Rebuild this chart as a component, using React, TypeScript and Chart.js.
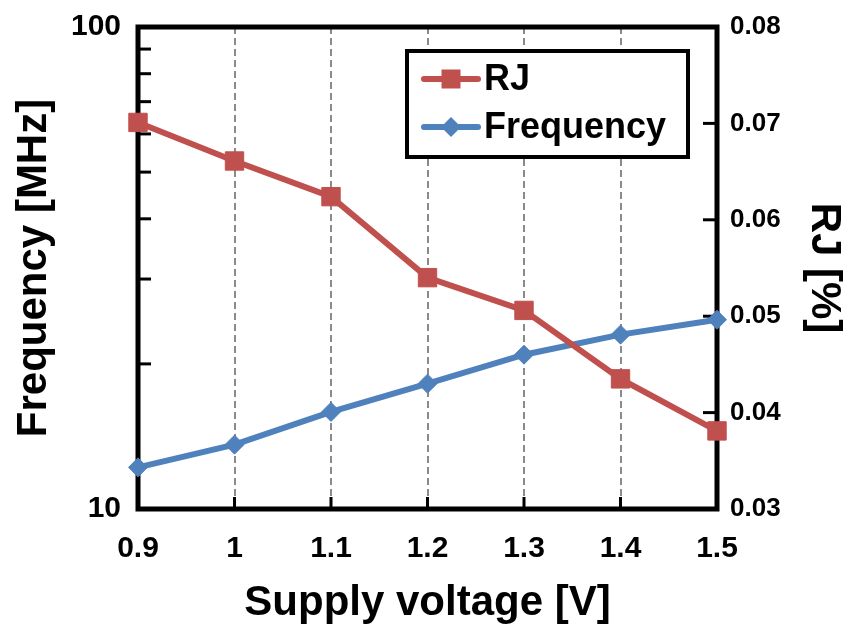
import React, { useEffect, useRef } from 'react';
import { Chart, registerables } from 'chart.js';

Chart.register(...registerables);

// ---- data ----
const voltages = ['0.9', '1', '1.1', '1.2', '1.3', '1.4', '1.5'];
const rjValues = [0.0701, 0.0661, 0.0624, 0.054, 0.0506, 0.0435, 0.0381];
const freqValues = [12.2, 13.6, 15.9, 18.2, 20.9, 23.0, 24.7];
const freqTicks = [10, 20, 30, 40, 50, 60, 70, 80, 90, 100];
const freqLabeled = [10, 100];
const rjTicks = [0.03, 0.04, 0.05, 0.06, 0.07, 0.08];

const RED = '#C0504D';
const BLUE = '#4F81BD';
const FONT = "'Liberation Sans', Arial, sans-serif";

const framePlugin = {
  id: 'frame',
  beforeDatasetsDraw(chart: any) {
    const { ctx, chartArea, scales } = chart;
    const { left, right, top, bottom } = chartArea;
    const x = scales.x, y = scales.y, y1 = scales.y1;
    ctx.save();
    ctx.strokeStyle = '#8a8a8a';
    ctx.lineWidth = 2;
    ctx.setLineDash([7, 4]);
    voltages.forEach((_, i) => {
      if (i === 0 || i === voltages.length - 1) return;
      const px = Math.round(x.getPixelForValue(i));
      ctx.beginPath();
      ctx.moveTo(px, top);
      ctx.lineTo(px, bottom);
      ctx.stroke();
    });
    ctx.setLineDash([]);
    ctx.strokeStyle = '#000';
    ctx.lineWidth = 3;
    const seg = (x0: number, y0: number, x1: number, y2: number) => {
      ctx.beginPath();
      ctx.moveTo(x0, y0);
      ctx.lineTo(x1, y2);
      ctx.stroke();
    };
    freqTicks.forEach((v) => {
      if (v === freqTicks[0] || v === freqTicks[freqTicks.length - 1]) return;
      const py = y.getPixelForValue(v);
      seg(left, py, left + 13, py);
    });
    rjTicks.forEach((v, i) => {
      if (i === 0 || i === rjTicks.length - 1) return;
      const py = y1.getPixelForValue(v);
      seg(right - 14, py, right, py);
    });
    voltages.forEach((_, i) => {
      if (i === 0 || i === voltages.length - 1) return;
      const px = x.getPixelForValue(i);
      seg(px, bottom - 12, px, bottom);
    });
    ctx.lineWidth = 5;
    ctx.strokeRect(left, top, right - left, bottom - top);
    ctx.restore();
  },
  afterDatasetsDraw(chart: any) {
    const { ctx } = chart;
    const bx = 407, by = 51, bw = 281, bh = 106;
    ctx.save();
    ctx.fillStyle = '#fff';
    ctx.fillRect(bx, by, bw, bh);
    ctx.strokeStyle = '#000';
    ctx.lineWidth = 4;
    ctx.strokeRect(bx, by, bw, bh);
    const rows = [79, 127];
    chart.data.datasets.forEach((ds: any, i: number) => {
      const cy = rows[i];
      const color = ds.borderColor;
      ctx.strokeStyle = color;
      ctx.lineWidth = 6;
      ctx.lineCap = 'round';
      ctx.beginPath();
      ctx.moveTo(424, cy);
      ctx.lineTo(478, cy);
      ctx.stroke();
      ctx.fillStyle = color;
      if (ds.pointStyle === 'rect') {
        ctx.fillRect(451 - 9.5, cy - 9.5, 19, 19);
      } else {
        ctx.beginPath();
        ctx.moveTo(451 - 10, cy);
        ctx.lineTo(451, cy - 10);
        ctx.lineTo(451 + 10, cy);
        ctx.lineTo(451, cy + 10);
        ctx.closePath();
        ctx.fill();
      }
      ctx.fillStyle = '#000';
      ctx.font = `bold 36px ${FONT}`;
      ctx.textBaseline = 'middle';
      ctx.textAlign = 'left';
      ctx.fillText(ds.label, 484, cy + 1);
    });
    ctx.restore();
  },
};

export default function App() {
  const ref = useRef<HTMLCanvasElement>(null);
  useEffect(() => {
    if (!ref.current) return;
    const chart = new Chart(ref.current, {
      type: 'line',
      data: {
        labels: voltages,
        datasets: [
          {
            label: 'RJ',
            data: rjValues,
            yAxisID: 'y1',
            borderColor: RED,
            backgroundColor: RED,
            borderWidth: 6,
            pointStyle: 'rect',
            pointRadius: 13,
            pointBorderWidth: 1,
            pointBorderColor: RED,
            pointBackgroundColor: RED,
            tension: 0,
            clip: false as any,
          },
          {
            label: 'Frequency',
            data: freqValues,
            yAxisID: 'y',
            borderColor: BLUE,
            backgroundColor: BLUE,
            borderWidth: 6,
            pointStyle: 'rectRot',
            pointRadius: 9.5,
            pointBorderWidth: 1,
            pointBorderColor: BLUE,
            pointBackgroundColor: BLUE,
            tension: 0,
            clip: false as any,
          },
        ],
      },
      options: {
        responsive: false,
        animation: false,
        events: [],
        layout: { padding: { top: 27, left: 0, right: 0, bottom: 0 } },
        plugins: { legend: { display: false }, tooltip: { enabled: false } },
        scales: {
          x: {
            type: 'category',
            offset: false,
            grid: { display: false, drawTicks: false },
            border: { display: false },
            ticks: {
              color: '#000',
              font: { family: FONT, size: 30, weight: 'bold' },
              padding: 22,
              maxRotation: 0,
              autoSkip: false,
            },
            title: {
              display: true,
              text: 'Supply voltage [V]',
              color: '#000',
              font: { family: FONT, size: 42, weight: 'bold', lineHeight: 1 },
              padding: { top: 5, bottom: 0 },
            },
            afterFit(scale: any) {
              scale.height = 115;
            },
          },
          y: {
            type: 'logarithmic',
            position: 'left',
            min: 10,
            max: 100,
            grid: { display: false, drawTicks: false },
            border: { display: false },
            afterBuildTicks(scale: any) {
              scale.ticks = freqTicks.map((value) => ({ value }));
            },
            ticks: {
              color: '#000',
              font: { family: FONT, size: 30, weight: 'bold' },
              padding: 17,
              autoSkip: false,
              callback: (value: any) => (freqLabeled.includes(Number(value)) ? String(value) : ''),
            },
            title: {
              display: true,
              text: 'Frequency [MHz]',
              color: '#000',
              font: { family: FONT, size: 42, weight: 'bold', lineHeight: 1 },
              padding: { top: 13, bottom: 0 },
            },
            afterFit(scale: any) {
              scale.width = 138;
              scale.paddingTop = 0;
              scale.paddingBottom = 0;
            },
          },
          y1: {
            type: 'linear',
            position: 'right',
            min: 0.03,
            max: 0.08,
            grid: { display: false, drawTicks: false },
            border: { display: false },
            afterBuildTicks(scale: any) {
              scale.ticks = rjTicks.map((value) => ({ value }));
            },
            ticks: {
              color: '#000',
              font: { family: FONT, size: 26, weight: 'bold' },
              padding: 13,
              autoSkip: false,
              callback: (value: any) => Number(value).toFixed(2),
            },
            title: {
              display: true,
              text: 'RJ [%]',
              color: '#000',
              font: { family: FONT, size: 42, weight: 'bold', lineHeight: 1 },
              padding: { top: 0, bottom: 0 },
            },
            afterFit(scale: any) {
              scale.width = 128;
              scale.paddingTop = 0;
              scale.paddingBottom = 0;
            },
          },
        },
      },
      plugins: [framePlugin],
    } as any);
    return () => chart.destroy();
  }, []);
  return (
    <div style={{ position: 'absolute', left: 0, top: 0, width: 845, height: 624 }}>
      <canvas ref={ref} width={845} height={624} style={{ width: 845, height: 624, display: 'block' }} />
    </div>
  );
}
